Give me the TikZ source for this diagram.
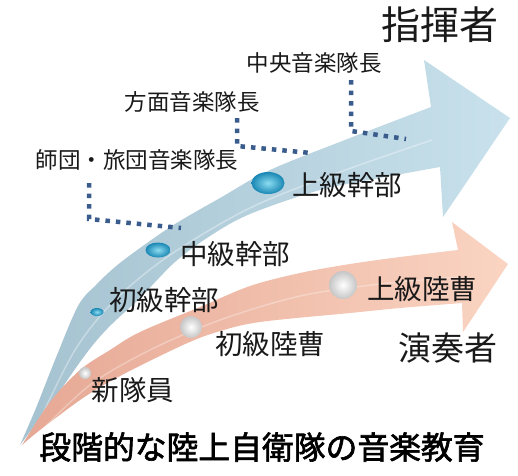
\documentclass[tikz,border=0pt]{standalone}
\usepackage{fontspec}
\setmainfont{Noto Sans CJK JP}
\newfontfamily\titlefont[FakeBold=2]{Noto Sans CJK JP}
\definecolor{bluetail}{RGB}{165,194,208}
\definecolor{bluehead}{RGB}{200,225,236}
\definecolor{orgtail}{RGB}{230,168,148}
\definecolor{orghead}{RGB}{250,212,194}
\definecolor{dotblue}{RGB}{58,92,140}
\definecolor{txt}{RGB}{25,25,25}
\definecolor{bubin}{RGB}{140,220,240}
\definecolor{bubout}{RGB}{25,135,180}
\begin{document}
\begin{tikzpicture}[x=1pt,y=-1pt,
  lbls/.style={text=txt, font=\fontsize{22.5}{24}\selectfont, inner sep=0pt},
  lblm/.style={text=txt, font=\fontsize{27.5}{29}\selectfont, inner sep=0pt},
  dots/.style={dotblue, line width=4.5pt, dash pattern=on 4.5pt off 6pt},
  bbl/.style={inner color=bubin, outer color=bubout},
  prl/.style={inner color=white, outer color=gray!45},
  ]
\useasboundingbox (0,0) rectangle (518,475);

% blue arrow (command path)
\shade[left color=bluetail, right color=bluehead]
  plot[smooth, tension=0.55] coordinates {(20,445) (36,408) (55,360) (78,306) (96,285) (115,267) (140,248) (175,224) (220,198) (270,170) (350,138) (431,107)}
  -- (424,60) -- (510,118) -- (443,217) -- (440,167)
  -- plot[smooth, tension=0.55] coordinates {(440,167) (380,178) (320,190) (250,214) (210,236) (175,262) (140,298) (113,323) (97,340) (80,362) (50,405) (20,445)}
  -- cycle;
\draw[white, opacity=0.35, line width=1.5pt]
  plot[smooth, tension=0.55] coordinates {(40,420) (75,350) (115,300) (170,255) (250,208) (340,172) (432,140)};

% orange arrow (player path)
\shade[left color=orgtail, right color=orghead]
  plot[smooth, tension=0.55] coordinates {(22,445) (50,402) (80,370) (110,350) (140,332) (200,307) (250,286) (300,273) (350,264) (400,257) (458,250)}
  -- (452,222) -- (508,264) -- (463,332) -- (462,303)
  -- plot[smooth, tension=0.55] coordinates {(462,303) (400,308) (350,313) (260,322) (217,332) (183,345) (120,376) (83,398) (40,430) (22,445)}
  -- cycle;
\draw[white, opacity=0.3, line width=1.5pt]
  plot[smooth, tension=0.55] coordinates {(40,432) (90,385) (150,350) (220,320) (300,296) (380,284) (458,277)};

% bubbles
\shade[bbl] (97,312) ellipse [x radius=6.5, y radius=4];
\shade[bbl] (158,250) ellipse [x radius=12.5, y radius=7.5];
\shade[bbl] (268,183) ellipse [x radius=16.5, y radius=11];
\shade[prl] (85,373) circle [radius=6];
\shade[prl] (191,327) circle [radius=11];
\shade[prl] (343,285) circle [radius=14];

% labels
\node[text=txt, font=\fontsize{39}{41}\selectfont, inner sep=0pt] (shiki) at (440,25) {指揮者};
\node[lbls] (chuo) at (314,63) {中央音楽隊長};
\node[lbls] (homen) at (192,102) {方面音楽隊長};
\node[lbls] (shidan) at (137,160) {師団・旅団音楽隊長};
\node[lblm] (jokan) at (347,185) {上級幹部};
\node[lblm] (chukan) at (235,254) {中級幹部};
\node[lblm] (shokan) at (164,300) {初級幹部};
\node[lblm] (shintai) at (133,390) {新隊員};
\node[lblm] (shoso) at (270,344) {初級陸曹};
\node[lblm] (joso) at (422,289) {上級陸曹};
\node[text=txt, font=\fontsize{33}{35}\selectfont, inner sep=0pt] (ensou) at (448,348) {演奏者};
\node[text=black, font=\titlefont\fontsize{31.8}{34}\selectfont, inner sep=0pt] (title) at (262,447) {段階的な陸上自衛隊の音楽教育};

% dotted connectors
\coordinate (d1a) at (89,183);
\coordinate (d1b) at (89,219);
\coordinate (d1c) at (181,228);
\coordinate (d2a) at (237,118);
\coordinate (d2b) at (237,146);
\coordinate (d2c) at (311,153);
\coordinate (d3a) at (351,80);
\coordinate (d3b) at (351,131);
\coordinate (d3c) at (406,139);
\draw[dots] (d1a) -- (d1b) -- (d1c);
\draw[dots] (d2a) -- (d2b) -- (d2c);
\draw[dots] (d3a) -- (d3b) -- (d3c);
\end{tikzpicture}
\end{document}
